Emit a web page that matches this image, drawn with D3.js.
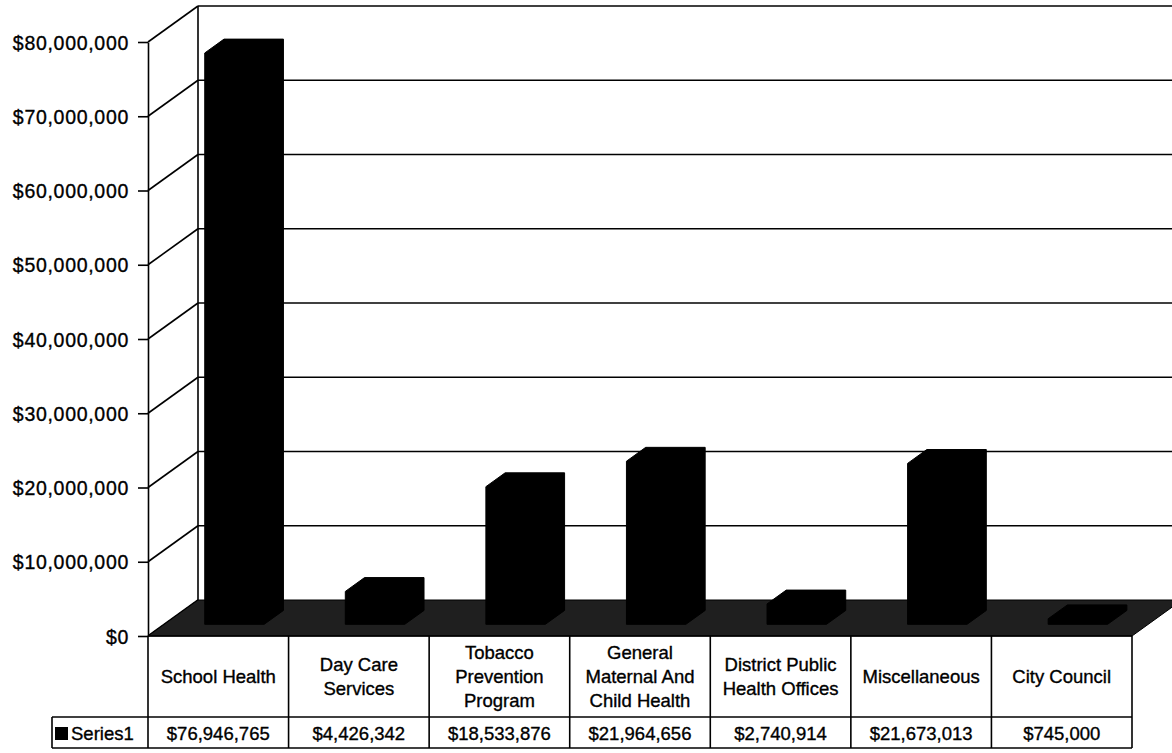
<!DOCTYPE html>
<html>
<head>
<meta charset="utf-8">
<script src="https://cdn.jsdelivr.net/npm/d3@7"></script>
<style>
  html, body { margin: 0; padding: 0; background: #fff; }
  svg { display: block; }
  text { font-family: "Liberation Sans", Arial, sans-serif; fill: #000; stroke: #000; stroke-width: 0.35px; }
</style>
</head>
<body>
<svg id="chart" width="1172" height="753"></svg>
<script>
// ---- data ----
const categories = [
  ["School Health"],
  ["Day Care", "Services"],
  ["Tobacco", "Prevention", "Program"],
  ["General", "Maternal And", "Child Health"],
  ["District Public", "Health Offices"],
  ["Miscellaneous"],
  ["City Council"]
];
const seriesName = "Series1";
const values = [76946765, 4426342, 18533876, 21964656, 2740914, 21673013, 745000];
const valueLabels = ["$76,946,765", "$4,426,342", "$18,533,876", "$21,964,656", "$2,740,914", "$21,673,013", "$745,000"];
const tickValues = [0, 10000000, 20000000, 30000000, 40000000, 50000000, 60000000, 70000000, 80000000];

// ---- geometry ----
const svg = d3.select("#chart");
const left = 148, right = 1132;
const floorY = 636;
const depthDX = 50, depthDY = 36;
const tableRow1 = 717, tableBottom = 748, legendLeft = 52;

const x = d3.scaleBand().domain(d3.range(categories.length)).range([left, right]).paddingInner(0).paddingOuter(0);
const yFront = d3.scaleLinear().domain([0, 80000000]).range([floorY, floorY - 594]);

function proj(px, v, d) {
  return [px + d * depthDX, yFront(v) - d * depthDY];
}

const stroke = "#000";
const lw = 1.6;

// side wall diagonals & back wall gridlines
const g = svg.append("g");
tickValues.forEach(t => {
  const a = proj(left, t, 0), b = proj(left, t, 1);
  g.append("line").attr("x1", a[0]).attr("y1", a[1]).attr("x2", b[0]).attr("y2", b[1])
    .attr("stroke", stroke).attr("stroke-width", lw);
  if (t > 0) {
    const c = proj(right, t, 1);
    g.append("line").attr("x1", b[0]).attr("y1", b[1]).attr("x2", c[0] + 20).attr("y2", c[1])
      .attr("stroke", stroke).attr("stroke-width", lw);
  }
});
{
  const a = proj(left, 0, 1), b = proj(left, 80000000, 1);
  g.append("line").attr("x1", a[0]).attr("y1", a[1]).attr("x2", b[0]).attr("y2", b[1])
    .attr("stroke", stroke).attr("stroke-width", lw);
}

// floor
{
  const p = [proj(left, 0, 0), proj(right, 0, 0), proj(right, 0, 1), proj(left, 0, 1)];
  svg.append("polygon").attr("points", p.map(q => q.join(",")).join(" "))
    .attr("fill", "#1f1f1f").attr("stroke", "#000").attr("stroke-width", 1);
}

// bars (3D columns)
const dFront = 0.325, dBack = 0.71;
const barOff = 0.288, barW = 0.423;
const bars = svg.append("g");
values.forEach((v, i) => {
  const x0f = x(i) + x.bandwidth() * barOff;
  const x1f = x0f + x.bandwidth() * barW;
  const fl = proj(x0f, 0, dFront), fr = proj(x1f, 0, dFront);
  const tl = proj(x0f, v, dFront);
  const btl = proj(x0f, v, dBack), btr = proj(x1f, v, dBack), bbr = proj(x1f, 0, dBack);
  const shape = [fl, tl, btl, btr, bbr, fr];
  bars.append("polygon").attr("points", shape.map(q => q.join(",")).join(" "))
    .attr("fill", "#000").attr("stroke", "#000").attr("stroke-width", 1);
});

// front value axis
const axis = d3.axisLeft(yFront).tickValues(tickValues).tickFormat(d3.format("$,.0f"))
  .tickSize(10).tickPadding(9).tickSizeOuter(0);
const ax = svg.append("g").attr("transform", `translate(${left},0)`).call(axis);
ax.select(".domain").attr("stroke", stroke).attr("stroke-width", lw);
ax.selectAll(".tick line").attr("stroke", stroke).attr("stroke-width", lw);
ax.selectAll(".tick text")
  .style("font-family", '"Liberation Sans", Arial, sans-serif')
  .style("font-size", "19.5px").style("letter-spacing", "0.7px")
  .attr("dy", "0.36em").attr("fill", "#000").attr("stroke", "#000").attr("stroke-width", 0.35);

// data table
const tbl = svg.append("g");
const line = (x1, y1, x2, y2) => tbl.append("line").attr("x1", x1).attr("y1", y1).attr("x2", x2).attr("y2", y2)
  .attr("stroke", stroke).attr("stroke-width", lw);
line(left, floorY, right, floorY);
line(legendLeft, tableRow1, right, tableRow1);
line(legendLeft, tableBottom, right, tableBottom);
line(legendLeft, tableRow1, legendLeft, tableBottom);
d3.range(categories.length + 1).forEach(i => {
  const xx = i < categories.length ? x(i) : right;
  line(xx, floorY, xx, tableBottom);
});

const fs = "18.5px";
categories.forEach((lines, i) => {
  const cx = x(i) + x.bandwidth() / 2;
  const n = lines.length;
  lines.forEach((t, j) => {
    tbl.append("text").attr("x", cx).attr("y", 683 + (j - (n - 1) / 2) * 24)
      .attr("text-anchor", "middle").style("font-size", fs).text(t);
  });
  tbl.append("text").attr("x", cx).attr("y", 740)
    .attr("text-anchor", "middle").style("font-size", fs).text(valueLabels[i]);
});
tbl.append("rect").attr("x", 55).attr("y", 727).attr("width", 13).attr("height", 13).attr("fill", "#000");
tbl.append("text").attr("x", 71).attr("y", 740).style("font-size", fs).text(seriesName);
</script>
</body>
</html>
